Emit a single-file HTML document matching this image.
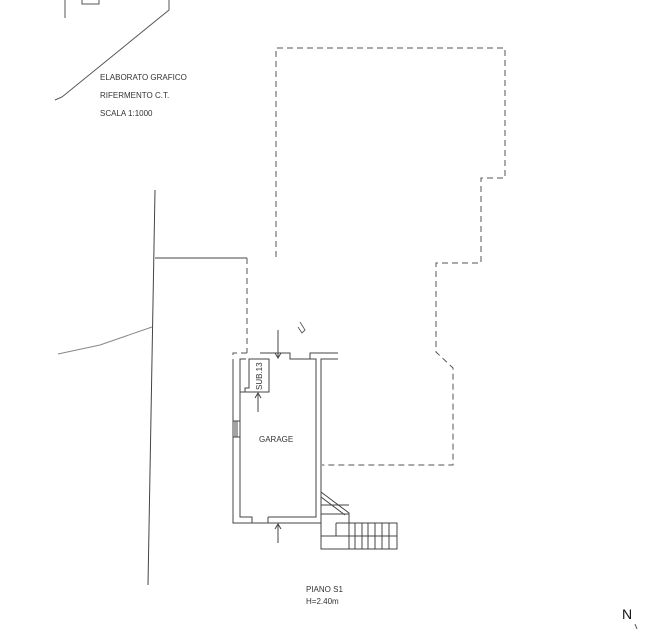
<!DOCTYPE html>
<html><head><meta charset="utf-8"><style>
html,body{margin:0;padding:0;background:#fff;}
svg{display:block;}
text{font-family:"Liberation Sans",sans-serif;fill:#333;}
</style></head><body>
<svg width="650" height="629" viewBox="0 0 650 629" xmlns="http://www.w3.org/2000/svg">
<g fill="none" stroke="#444" stroke-width="1">
<!-- top-left fragments -->
<path d="M65 0 L65 18 M169 0 L169 10 L62 97 L55 100" stroke="#555"/>
<path d="M82 0 L82 4 L99 4 L99 0" stroke="#555"/>
<!-- long line -->
<path d="M155 190 L148 585"/>
<path d="M155 258 L247 258"/>
<path d="M58 354 L100 345 L152 327" stroke="#888"/>
<!-- dashed outline -->
<g stroke-dasharray="6,4" stroke="#555">
<path d="M276 257 L276 48 L505 48 L505 178 L481 178 L481 263 L436 263 L436 352 L453 368 L453 465 L322 465"/>
<path d="M247 258 L247 353"/>
<path d="M247 353 L233 353 L233 360"/>
</g>
<!-- garage walls -->
<path d="M233 360 L233 523 L321 523 L321 359 L338 359"/>
<path d="M240 425 L240 517 L252 517 L252 523 M240 392 L240 359 L246 359"/>
<path d="M240 392 L245 392 L245 388 L249 388 L249 359 L269 359 L269 392 L245 392"/>
<path d="M268 517 L268 523 M268 517 L316 517 L316 359 L310 359 L310 353 L338 353"/>
<path d="M260 353 L290 353 L290 359 L316 359"/>
<path d="M240 425 L240 392"/>
<rect x="233" y="421" width="7" height="16"/>
<path d="M235 421 L235 437 M237 421 L237 437"/>
<!-- arrows -->
<path d="M278 330 L278 358 M275 353 L278 358 L281 353"/>
<path d="M258 412 L258 393 M255 398 L258 393 L261 398"/>
<path d="M278 543 L278 524 M275 529 L278 524 L281 529"/>
<!-- stairs -->
<path d="M321 492 L349 513 L349 523 M321 497 L345 515"/>
<path d="M321 505 L349 505 M321 514 L349 514"/>
<path d="M336 523 L336 536 L397 536 L397 549 L321 549 L321 523"/>
<path d="M336 523 L397 523 L397 549 M321 536 L336 536"/>
<path d="M349 523 L349 549 M355 523 L355 549 M362 523 L362 549 M368 523 L368 549 M375 523 L375 549 M382 523 L382 549 M389 523 L389 549"/>
<path d="M300 322 L305 330 L302 333 L298 327" stroke="#666"/>
<path d="M635 624 L637 629" stroke="#555"/>
</g>
<text x="100" y="80" font-size="8">ELABORATO GRAFICO</text>
<text x="100" y="98" font-size="8">RIFERMENTO C.T.</text>
<text x="100" y="116" font-size="8">SCALA 1:1000</text>
<text x="259" y="442" font-size="8">GARAGE</text>
<text x="0" y="0" font-size="8" transform="translate(262 390) rotate(-90)">SUB.13</text>
<text x="306" y="592" font-size="8">PIANO S1</text>
<text x="306" y="604" font-size="8">H=2.40m</text>
<text x="622" y="619" font-size="14" style="fill:#111">N</text>
</svg>
</body></html>
